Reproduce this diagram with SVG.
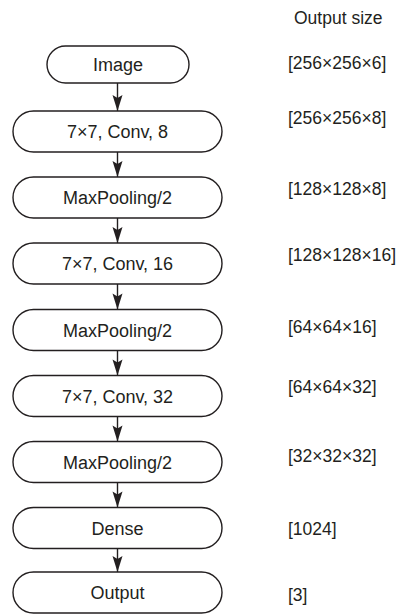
<svg xmlns="http://www.w3.org/2000/svg" width="399" height="614" viewBox="0 0 399 614">
<defs>
<style>
.node rect{fill:#fff;stroke:#231f20;stroke-width:1.4}
.node text{font-family:"Liberation Sans",Arial,sans-serif;font-size:18px;fill:#231f20;text-anchor:middle}
.lbl{font-family:"Liberation Sans",Arial,sans-serif;font-size:17.5px;fill:#231f20}
.conn line{stroke:#231f20;stroke-width:1.4}
</style>
<marker id="ah" markerUnits="userSpaceOnUse" markerWidth="20" markerHeight="14" viewBox="-18 -7 20 14" refX="0" refY="0" orient="auto">
<path d="M-16,-5 L0,0 L-16,5 L-13,0 Z" fill="#231f20"/>
</marker>
</defs>
<rect width="399" height="614" fill="#fff"/>
<g id="connectors" class="conn">
<line x1="117.5" y1="83" x2="117.5" y2="111" marker-end="url(#ah)"/>
<line x1="117.5" y1="152" x2="117.5" y2="177" marker-end="url(#ah)"/>
<line x1="117.5" y1="218" x2="117.5" y2="243" marker-end="url(#ah)"/>
<line x1="117.5" y1="284" x2="117.5" y2="309.5" marker-end="url(#ah)"/>
<line x1="117.5" y1="350.5" x2="117.5" y2="375.5" marker-end="url(#ah)"/>
<line x1="117.5" y1="416.5" x2="117.5" y2="441.5" marker-end="url(#ah)"/>
<line x1="117.5" y1="482.5" x2="117.5" y2="507.5" marker-end="url(#ah)"/>
<line x1="117.5" y1="548.5" x2="117.5" y2="572" marker-end="url(#ah)"/>
</g>
<g id="n-image" class="node"><rect x="47" y="46" width="142" height="37" rx="18.5"/><text x="118" y="71">Image</text></g>
<g id="n-conv8" class="node"><rect x="13" y="111" width="209" height="41" rx="20.5"/><text x="117.5" y="138">7×7, Conv, 8</text></g>
<g id="n-pool1" class="node"><rect x="13" y="177" width="209" height="41" rx="20.5"/><text x="117.5" y="204">MaxPooling/2</text></g>
<g id="n-conv16" class="node"><rect x="13" y="243" width="209" height="41" rx="20.5"/><text x="117.5" y="270">7×7, Conv, 16</text></g>
<g id="n-pool2" class="node"><rect x="13" y="309.5" width="209" height="41" rx="20.5"/><text x="117.5" y="336.5">MaxPooling/2</text></g>
<g id="n-conv32" class="node"><rect x="13" y="375.5" width="209" height="41" rx="20.5"/><text x="117.5" y="402.5">7×7, Conv, 32</text></g>
<g id="n-pool3" class="node"><rect x="13" y="441.5" width="209" height="41" rx="20.5"/><text x="117.5" y="468.5">MaxPooling/2</text></g>
<g id="n-dense" class="node"><rect x="13" y="507.5" width="209" height="41" rx="20.5"/><text x="117.5" y="534.5">Dense</text></g>
<g id="n-output" class="node"><rect x="13" y="572" width="209" height="41" rx="20.5"/><text x="117.5" y="599">Output</text></g>
<g id="labels">
<text class="lbl" x="294" y="24">Output size</text>
<text class="lbl" x="288" y="69">[256×256×6]</text>
<text class="lbl" x="288" y="124">[256×256×8]</text>
<text class="lbl" x="288" y="195">[128×128×8]</text>
<text class="lbl" x="288" y="261">[128×128×16]</text>
<text class="lbl" x="288" y="333">[64×64×16]</text>
<text class="lbl" x="288" y="393">[64×64×32]</text>
<text class="lbl" x="288" y="462">[32×32×32]</text>
<text class="lbl" x="288" y="535">[1024]</text>
<text class="lbl" x="288" y="601">[3]</text>
</g>
</svg>
